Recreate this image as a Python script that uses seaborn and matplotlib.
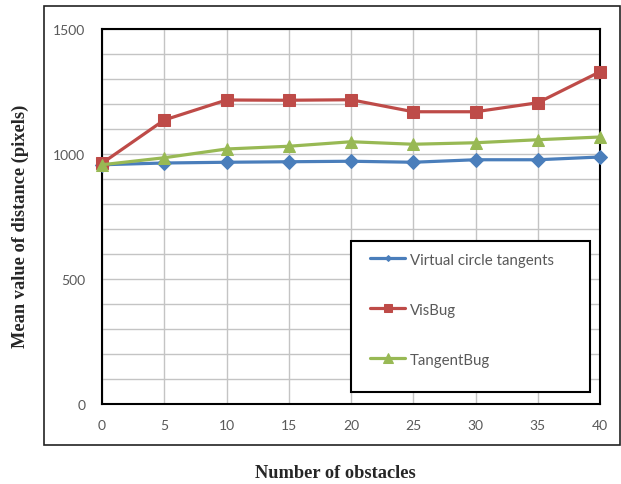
import matplotlib
matplotlib.use("Agg")
import matplotlib.pyplot as plt
from matplotlib.patches import Rectangle
import seaborn as sns
import pandas as pd

# Number of obstacles on the x axis
obstacles = [0, 5, 10, 15, 20, 25, 30, 35, 40]

# Mean path length (pixels) for each planner
virtual_circle = [957, 964, 967, 969, 971, 967, 977, 977, 988]
visbug = [963, 1136, 1216, 1215, 1217, 1169, 1169, 1205, 1329]
tangentbug = [957, 985, 1020, 1031, 1049, 1039, 1045, 1057, 1068]

series_names = ["Virtual circle tangents", "VisBug", "TangentBug"]
series_colors = ["#4A7EBB", "#BE4B48", "#98B954"]
series_markers = ["D", "s", "^"]
marker_sizes = [7, 8, 8.5]

x_ticks = [0, 5, 10, 15, 20, 25, 30, 35, 40]
y_ticks = [0, 500, 1000, 1500]

df = pd.DataFrame({
    "obstacles": obstacles * 3,
    "distance": virtual_circle + visbug + tangentbug,
    "method": sum([[n] * len(obstacles) for n in series_names], []),
})

sns.set_theme(style="white")
plt.rcParams["font.family"] = ["Lato", "DejaVu Sans"]

fig = plt.figure(figsize=(6.21, 4.85), dpi=100)
ax = fig.add_axes([102 / 621, 1 - 405 / 485, 498 / 621, 375 / 485])

for name, color, marker, ms in zip(series_names, series_colors, series_markers, marker_sizes):
    sub = df[df["method"] == name]
    sns.lineplot(data=sub, x="obstacles", y="distance", ax=ax, color=color,
                 marker=marker, markersize=ms, markeredgecolor=color,
                 linewidth=2.3, label=name, clip_on=False, zorder=3)

ax.set_xlim(0, 40)
ax.set_ylim(0, 1500)
ax.set_xticks(x_ticks)
ax.set_yticks(y_ticks)
ax.set_yticks(range(0, 1501, 100), minor=True)
ax.grid(True, which="both", color="#C4C4C4", linewidth=1.0)
ax.set_axisbelow(True)
ax.tick_params(axis="both", which="both", length=0, labelsize=10, colors="#595959")
ax.tick_params(axis="y", pad=12)
ax.tick_params(axis="x", pad=11)
for s in ax.spines.values():
    s.set_color("black")
    s.set_linewidth(1.5)
ax.set_xlabel("")
ax.set_ylabel("")

# Legend frame drawn as its own box, entries laid on top
ax.add_patch(Rectangle((0.5, 0.032), 0.48, 0.403, transform=ax.transAxes,
                       facecolor="white", edgecolor="black", linewidth=1.5,
                       zorder=4.5))
leg = ax.legend(loc="upper left", bbox_to_anchor=(0.538, 0.404), frameon=False,
                fontsize=10.8, labelspacing=2.4, handlelength=2.35,
                handletextpad=0.3, borderpad=0, borderaxespad=0,
                markerscale=0.8)
leg.set_zorder(5)
for t in leg.get_texts():
    t.set_color("#595959")
leg_handles = leg.legend_handles if hasattr(leg, "legend_handles") else leg.legendHandles
leg_handles[0].set_markersize(3)

# Outer chart-area frame
fig.add_artist(Rectangle((44 / 621, 1 - 446 / 485), 576 / 621, 439 / 485,
                         transform=fig.transFigure, fill=False,
                         edgecolor="#222222", linewidth=1.2))

fig.text(20 / 621, 1 - 226 / 485, "Mean value of distance (pixels)",
         rotation=90, ha="center", va="center", fontsize=13.2,
         fontweight="bold", family=["Liberation Serif", "DejaVu Serif"])
fig.text(335 / 621, 1 - 474 / 485, "Number of obstacles",
         ha="center", va="center", fontsize=13.2, fontweight="bold",
         family=["Liberation Serif", "DejaVu Serif"])

fig.savefig("out.png", dpi=100)
